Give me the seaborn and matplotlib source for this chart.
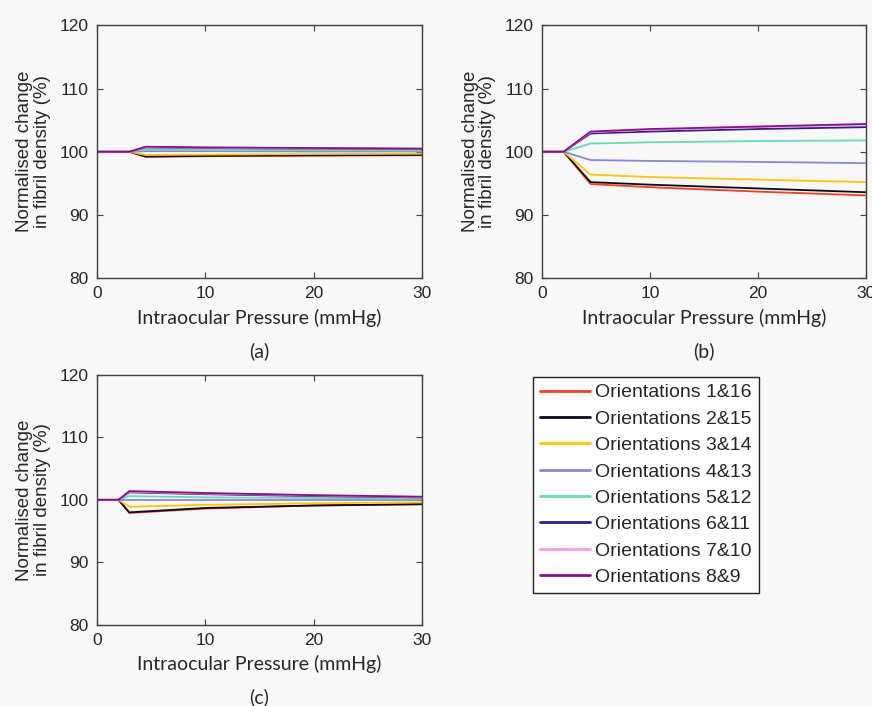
import numpy as np
import pandas as pd
import matplotlib
matplotlib.use("Agg")
import matplotlib.pyplot as plt
import seaborn as sns

labels = ["Orientations 1&16", "Orientations 2&15", "Orientations 3&14", "Orientations 4&13",
          "Orientations 5&12", "Orientations 6&11", "Orientations 7&10", "Orientations 8&9"]
colors = ["#ff3a1e", "#0a0a1e", "#ffc800", "#8a86d6", "#62dcb8", "#2a1f8c", "#ff9ad6", "#8c0c8c"]

# (a)
pa_x = [0, 3, 4.5, 10, 20, 30]
pa_y = [
    [100, 100, 99.2, 99.3, 99.4, 99.45],
    [100, 100, 99.25, 99.35, 99.45, 99.5],
    [100, 100, 99.5, 99.55, 99.65, 99.7],
    [100, 100, 100.1, 100.1, 100.05, 100.05],
    [100, 100, 100.4, 100.35, 100.25, 100.2],
    [100, 100, 100.7, 100.6, 100.5, 100.45],
    [100, 100, 100.75, 100.65, 100.55, 100.5],
    [100, 100, 100.8, 100.7, 100.6, 100.5],
]
# (b)
pb_x = [0, 2, 4.5, 10, 20, 30]
pb_y = [
    [100, 100, 94.9, 94.4, 93.7, 93.1],
    [100, 100, 95.2, 94.8, 94.2, 93.6],
    [100, 100, 96.4, 96.0, 95.6, 95.2],
    [100, 100, 98.7, 98.55, 98.4, 98.2],
    [100, 100, 101.3, 101.5, 101.7, 101.8],
    [100, 100, 102.9, 103.2, 103.6, 103.9],
    [100, 100, 103.1, 103.5, 103.9, 104.3],
    [100, 100, 103.2, 103.6, 104.0, 104.4],
]
# (c)
pc_x = [0, 2, 3, 10, 20, 30]
pc_y = [
    [100, 100, 97.9, 98.6, 99.1, 99.3],
    [100, 100, 98.0, 98.7, 99.1, 99.3],
    [100, 100, 98.9, 99.2, 99.45, 99.6],
    [100, 100, 100.0, 100.0, 100.0, 100.0],
    [100, 100, 100.6, 100.4, 100.3, 100.2],
    [100, 100, 101.2, 100.9, 100.6, 100.4],
    [100, 100, 101.3, 101.0, 100.7, 100.45],
    [100, 100, 101.4, 101.1, 100.75, 100.5],
]

sns.set_style("ticks")
plt.rcParams["font.family"] = ["Liberation Sans", "DejaVu Sans"]

fig = plt.figure(figsize=(8.72, 7.06), dpi=100, facecolor="#f8f8f8")
pos = {"a": [0.111, 0.606, 0.373, 0.358],
       "b": [0.6216, 0.606, 0.371, 0.358],
       "c": [0.111, 0.115, 0.373, 0.354]}
panels = {"a": (pa_x, pa_y), "b": (pb_x, pb_y), "c": (pc_x, pc_y)}

for key, (xs, ys) in panels.items():
    ax = fig.add_axes(pos[key])
    ax.set_facecolor("#f8f8f8")
    rows = []
    for lab, yv in zip(labels, ys):
        for xv, v in zip(xs, yv):
            rows.append({"x": xv, "y": v, "Orientation": lab})
    df = pd.DataFrame(rows)
    sns.lineplot(data=df, x="x", y="y", hue="Orientation", palette=colors,
                 linewidth=1.3, ax=ax, legend=False)
    ax.set_xlim(0, 30)
    ax.set_ylim(80, 120)
    ax.set_xticks([0, 10, 20, 30])
    ax.set_yticks([80, 90, 100, 110, 120])
    ax.tick_params(direction="in", top=True, right=True, labelsize=12.5, length=4,
                   color="#404040", pad=6)
    for s in ax.spines.values():
        s.set_color("#404040")
        s.set_linewidth(1.0)
    ax.set_xlabel("Intraocular Pressure (mmHg)", fontsize=14, family="Lato", labelpad=5)
    ax.set_ylabel("Normalised change\nin fibril density (%)", fontsize=13.5, labelpad=6,
                  linespacing=1.05)
    ax.text(0.5, -0.255, f"({key})", transform=ax.transAxes, ha="center", va="top",
            fontsize=14, family="Lato")

handles = [plt.Line2D([], [], color=c, linewidth=2) for c in colors]
fig.legend(handles, labels, loc="upper left", bbox_to_anchor=(0.611, 0.466),
           frameon=True, fancybox=False, edgecolor="#202020", fontsize=14,
           handlelength=2.6, handletextpad=0.27, labelspacing=0.45, borderpad=0.35,
           borderaxespad=0, facecolor="white", framealpha=1)

plt.savefig("out.png", dpi=100, facecolor=fig.get_facecolor())
